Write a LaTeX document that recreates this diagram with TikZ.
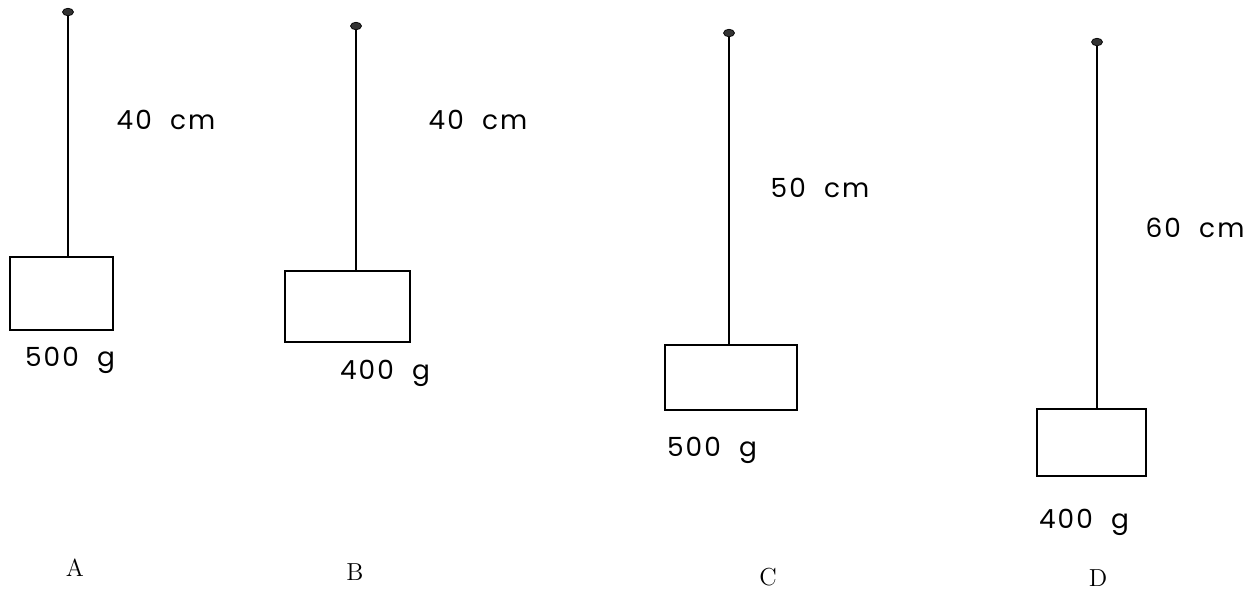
\documentclass[tikz,border=0pt]{standalone}
\usepackage{fontspec}
\newfontfamily\handfont[LetterSpace=8]{Poppins}
\usepackage{tikz}
\usetikzlibrary{shapes.geometric}

\begin{document}
\begin{tikzpicture}[
  x=0.02cm, y=-0.02cm,
  pivot/.style={draw, fill=black!80, ellipse, inner sep=0pt, minimum width=0.22cm, minimum height=0.15cm},
  bob/.style={draw, line width=1pt, inner sep=0pt},
  string/.style={line width=0.8pt},
  hand/.style={font=\handfont\fontsize{15}{17}\selectfont},
  tag/.style={font=\fontsize{14}{16}\selectfont}
]
\useasboundingbox (0,0) rectangle (1258,589);

% pendulum A
\node[pivot] (pivA) at (68,12) {};
\node[bob, minimum width=2.06cm, minimum height=1.46cm] (bobA) at (61.5,293.5) {};
\draw[string] (pivA) -- (pivA |- bobA.north);
\node[hand] (lenA) at (166,120) {40\ \ cm};
\node[hand] (massA) at (70,360) {500\ \ g};
\node[tag] (tagA) at (75,568) {A};

% pendulum B
\node[pivot] (pivB) at (356,26) {};
\node[bob, minimum width=2.5cm, minimum height=1.42cm] (bobB) at (347.5,306.5) {};
\draw[string] (pivB) -- (pivB |- bobB.north);
\node[hand] (lenB) at (478,120) {40\ \ cm};
\node[hand] (massB) at (385,373) {400\ \ g};
\node[tag] (tagB) at (355,572) {B};

% pendulum C
\node[pivot] (pivC) at (729,33) {};
\node[bob, minimum width=2.64cm, minimum height=1.3cm] (bobC) at (731,377.5) {};
\draw[string] (pivC) -- (pivC |- bobC.north);
\node[hand] (lenC) at (820,188) {50\ \ cm};
\node[hand] (massC) at (712,450) {500\ \ g};
\node[tag] (tagC) at (768,577) {C};

% pendulum D
\node[pivot] (pivD) at (1097,42) {};
\node[bob, minimum width=2.18cm, minimum height=1.34cm] (bobD) at (1091.5,442.5) {};
\draw[string] (pivD) -- (pivD |- bobD.north);
\node[hand] (lenD) at (1195,228) {60\ \ cm};
\node[hand] (massD) at (1084,522) {400\ \ g};
\node[tag] (tagD) at (1098,578) {D};
\end{tikzpicture}
\end{document}
